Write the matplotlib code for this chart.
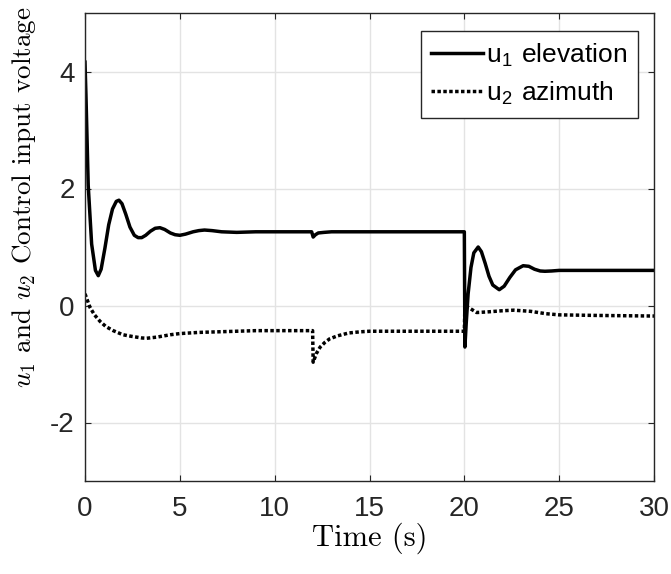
import numpy as np
import matplotlib.pyplot as plt

plt.rcParams['font.family'] = ['Liberation Sans', 'DejaVu Sans']
plt.rcParams['mathtext.fontset'] = 'cm'

# u1 elevation (solid)
t1 = [0, 0.05, 0.17, 0.35, 0.55, 0.70, 0.85, 1.05, 1.25, 1.45, 1.65, 1.79, 1.95,
      2.15, 2.37, 2.6, 2.8, 2.99, 3.2, 3.45, 3.7, 3.95, 4.2, 4.5, 4.75, 5.0, 5.3,
      5.7, 6.0, 6.3, 6.7, 7.2, 8, 9, 10, 11, 11.95, 12.03, 12.15, 12.3, 12.6, 13,
      14, 15, 16, 17, 18, 19, 20.0, 20.03, 20.1, 20.2, 20.35, 20.5, 20.73, 20.9,
      21.1, 21.3, 21.5, 21.84, 22.1, 22.4, 22.7, 23.1, 23.4, 23.7, 24.0, 24.25,
      24.6, 25, 26, 27, 28, 29, 30]
u1 = [4.16, 3.6, 2.05, 1.05, 0.6, 0.51, 0.62, 0.98, 1.38, 1.65, 1.78, 1.80, 1.74,
      1.56, 1.34, 1.2, 1.16, 1.16, 1.2, 1.27, 1.32, 1.33, 1.30, 1.24, 1.21, 1.20, 1.22,
      1.26, 1.28, 1.29, 1.28, 1.26, 1.25, 1.26, 1.26, 1.26, 1.26, 1.17, 1.21, 1.24, 1.25, 1.26,
      1.26, 1.26, 1.26, 1.26, 1.26, 1.26, 1.26, -0.71, -0.3, 0.2, 0.65, 0.9, 1.0, 0.92,
      0.72, 0.5, 0.35, 0.27, 0.33, 0.48, 0.61, 0.68, 0.67, 0.62, 0.59, 0.585,
      0.59, 0.60, 0.60, 0.60, 0.60, 0.60, 0.60]

# u2 azimuth (dotted)
t2 = [0, 0.26, 0.5, 0.79, 1.1, 1.49, 2.0, 2.5, 3.0, 3.25, 3.8, 4.5, 5.0, 6, 7, 8,
      9, 10, 11, 12.0, 12.03, 12.2, 12.4, 12.65, 12.9, 13.3, 13.9, 14.5, 15, 16,
      17, 18, 19, 20.0, 20.03, 20.25, 20.65, 21.2, 22, 22.6, 23.5, 24.3, 25, 27, 30]
u2 = [0.2, -0.03, -0.16, -0.27, -0.36, -0.43, -0.5, -0.53, -0.555, -0.56, -0.54, -0.5,
      -0.48, -0.46, -0.45, -0.44, -0.43, -0.43, -0.43, -0.43, -0.97, -0.82, -0.71,
      -0.63, -0.57, -0.52, -0.47, -0.45, -0.44, -0.44, -0.44, -0.44, -0.44, -0.44,
      0.0, -0.04, -0.12, -0.11, -0.09, -0.08, -0.10, -0.14, -0.16, -0.17, -0.18]

xticks = [0, 5, 10, 15, 20, 25, 30]
yticks = [-2, 0, 2, 4]
ytick_labels = ['-2', '0', '2', '4']

fig = plt.figure(figsize=(6.71, 5.74), dpi=100)
ax = fig.add_axes([85 / 671, 93 / 574, 569 / 671, 468 / 574])

ax.plot(t1, u1, color='black', lw=2.5, label='u$_\\mathregular{1}$ elevation')
ax.plot(t2, u2, color='black', lw=2.5, linestyle=(0, (1, 0.7)),
        label='u$_\\mathregular{2}$ azimuth')

ax.set_xlim(0, 30)
ax.set_ylim(-3, 5)
ax.set_xticks(xticks)
ax.set_yticks(yticks)
ax.set_yticklabels(ytick_labels)
ax.grid(True, color='#e3e3e3', lw=1.0)
ax.set_axisbelow(True)
ax.tick_params(direction='in', top=True, right=True, length=4, width=0.8,
               color='#262626', labelsize=20, labelcolor='#262626')
ax.tick_params(axis='x', pad=11)
ax.tick_params(axis='y', pad=7.5)
for s in ax.spines.values():
    s.set_color('#262626')
    s.set_linewidth(1.0)

ax.set_xlabel('Time (s)', fontfamily='cmr10', fontsize=22, labelpad=0)
ax.set_ylabel('$u_1$ and $u_2$ Control input voltage', fontfamily='cmr10',
              fontsize=19.5)
ax.yaxis.set_label_coords(-0.082, 0.607)

leg = ax.legend(loc='upper right', bbox_to_anchor=(0.972, 0.9615), borderaxespad=0,
                fontsize=19, fancybox=False, framealpha=1, edgecolor='#262626',
                handlelength=1.95, handletextpad=0.15, borderpad=0.4, labelspacing=0.4)
leg.get_frame().set_linewidth(1.0)

fig.savefig('out.png', dpi=100)
